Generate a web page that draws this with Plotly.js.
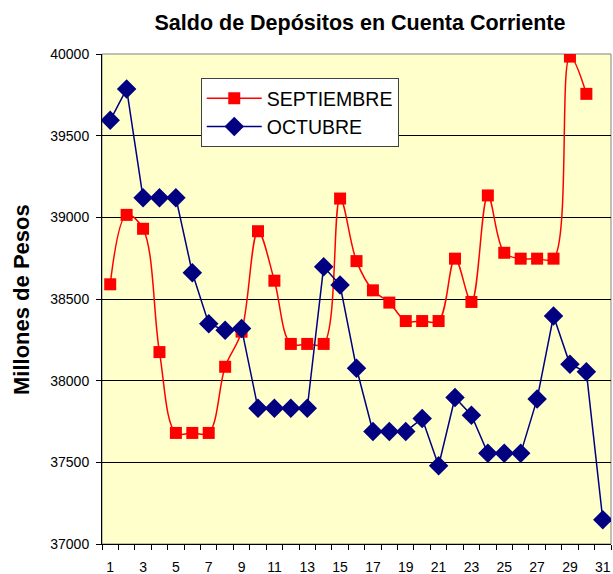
<!DOCTYPE html>
<html>
<head>
<meta charset="utf-8">
<script src="https://cdn.plot.ly/plotly-3.0.1.min.js"></script>
<style>
  html, body { margin: 0; padding: 0; background: #ffffff; }
  #chart { width: 613px; height: 574px; }
</style>
</head>
<body>
<div id="chart"></div>
<script>
var dias = [1, 2, 3, 4, 5, 6, 7, 8, 9, 10, 11, 12, 13, 14, 15, 16, 17, 18, 19, 20, 21, 22, 23, 24, 25, 26, 27, 28, 29, 30, 31];
var septiembre = [38590, 39015, 38930, 38175, 37680, 37680, 37680, 38085, 38300, 38915, 38612, 38225, 38225, 38225, 39115, 38732, 38553, 38478, 38365, 38365, 38365, 38747, 38482, 39134, 38783, 38747, 38747, 38747, 39984, 39756, null];
var octubre = [39594, 39786, 39120, 39120, 39120, 38661, 38349, 38308, 38320, 37831, 37831, 37831, 37831, 38698, 38585, 38076, 37689, 37689, 37689, 37769, 37479, 37897, 37789, 37555, 37555, 37555, 37887, 38396, 38100, 38054, 37149];
var xTickVals = [1, 3, 5, 7, 9, 11, 13, 15, 17, 19, 21, 23, 25, 27, 29, 31];
var xTickText = ['1', '3', '5', '7', '9', '11', '13', '15', '17', '19', '21', '23', '25', '27', '29', '31'];
var yTickVals = [37000, 37500, 38000, 38500, 39000, 39500, 40000];
var yTickText = ['37000', '37500', '38000', '38500', '39000', '39500', '40000'];
var titulo = 'Saldo de Depósitos en Cuenta Corriente';
var tituloY = 'Millones de Pesos';

var FONT = 'Liberation Sans, Arial, sans-serif';

// category boundaries for the tick marks (between days)
var xBoundaries = [];
for (var i = 0; i <= dias.length; i++) { xBoundaries.push(dias[0] - 0.5 + i); }

var traces = [
  {
    x: dias, y: septiembre, name: 'SEPTIEMBRE', type: 'scatter', mode: 'lines+markers',
    line: { color: '#FF0000', width: 1.5, shape: 'spline', smoothing: 1 },
    marker: { symbol: 'square', size: 12, color: '#FF0000' },
    connectgaps: false
  },
  {
    x: dias, y: octubre, name: 'OCTUBRE', type: 'scatter', mode: 'lines+markers',
    line: { color: '#000080', width: 1.5 },
    marker: { symbol: 'diamond', size: 15, color: '#000080' }
  },
  {
    x: [dias[0]], y: [null], xaxis: 'x2', yaxis: 'y', type: 'scatter', mode: 'markers',
    showlegend: false, hoverinfo: 'skip', marker: { opacity: 0 }
  }
];

var layout = {
  width: 613, height: 574,
  margin: { l: 102, r: 2, t: 54, b: 30, pad: 0 },
  paper_bgcolor: '#FFFFFF',
  plot_bgcolor: '#FFFFCC',
  font: { family: FONT, size: 14, color: '#000000' },
  title: {
    text: '<b>' + titulo + '</b>',
    font: { family: FONT, size: 21.5, color: '#000000' },
    x: 360 / 613, xanchor: 'center', xref: 'container',
    y: 1 - 22 / 574, yanchor: 'middle', yref: 'container'
  },
  showlegend: true,
  legend: {
    x: 0.194, y: 0.951, xanchor: 'left', yanchor: 'top',
    bgcolor: '#FFFFFF', bordercolor: '#404040', borderwidth: 1,
    font: { family: FONT, size: 19.5, color: '#000000' },
    itemwidth: 55,
    entrywidth: 153, entrywidthmode: 'pixels',
    tracegroupgap: 0
  },
  xaxis: {
    range: [0.5, 31.5], tickmode: 'array', tickvals: xBoundaries,
    ticktext: xBoundaries.map(function () { return ''; }),
    showgrid: false, zeroline: false, showline: true, linecolor: '#000000', linewidth: 1,
    ticks: 'outside', ticklen: 5, tickcolor: '#000000', tickwidth: 1,
    fixedrange: true
  },
  xaxis2: {
    range: [0.5, 31.5], overlaying: 'x', side: 'bottom', anchor: 'y',
    tickmode: 'array', tickvals: xTickVals, ticktext: xTickText,
    showgrid: false, zeroline: false, showline: false, ticks: '',
    ticklabelstandoff: 13,
    tickfont: { family: FONT, size: 14, color: '#000000' },
    fixedrange: true
  },
  yaxis: {
    range: [37000, 40000], tickmode: 'array', tickvals: yTickVals, ticktext: yTickText,
    showgrid: true, gridcolor: '#000000', gridwidth: 1,
    zeroline: false, showline: true, linecolor: '#000000', linewidth: 1,
    ticks: 'outside', ticklen: 5, tickcolor: '#000000',
    ticklabelstandoff: 4,
    tickfont: { family: FONT, size: 14, color: '#000000' },
    fixedrange: true
  },
  shapes: [
    { type: 'rect', xref: 'paper', yref: 'paper', x0: 0, x1: 1, y0: 0, y1: 1,
      line: { color: '#808080', width: 1 }, fillcolor: 'rgba(0,0,0,0)', layer: 'below' }
  ],
  annotations: [
    { text: '<b>' + tituloY + '</b>', xref: 'paper', yref: 'paper',
      x: (21 - 102) / 509, y: (544 - 300) / 490, xanchor: 'center', yanchor: 'middle',
      textangle: -90, showarrow: false,
      font: { family: FONT, size: 22, color: '#000000' } }
  ]
};

Plotly.newPlot('chart', traces, layout, { displayModeBar: false, staticPlot: true });
</script>
</body>
</html>
